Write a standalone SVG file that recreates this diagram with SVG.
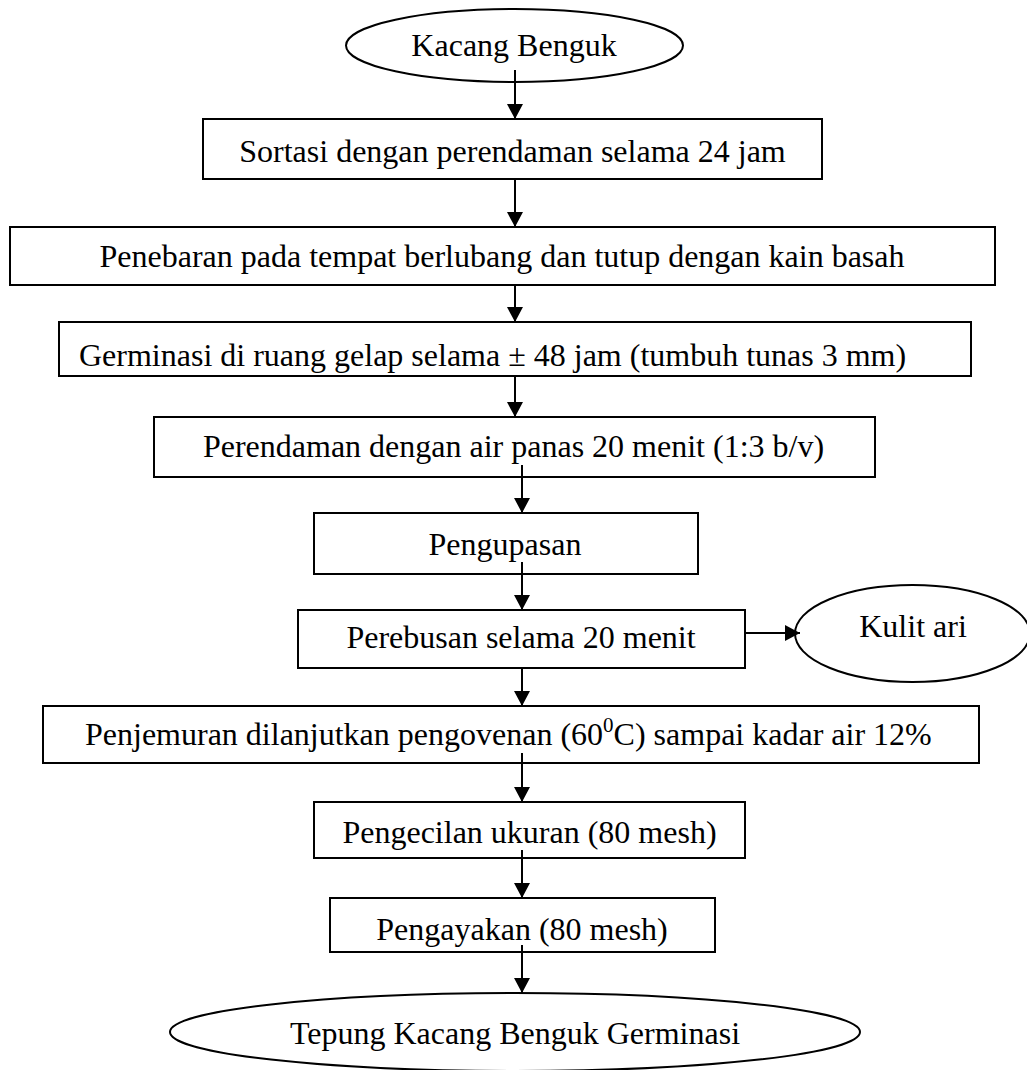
<svg xmlns="http://www.w3.org/2000/svg" width="1027" height="1070" viewBox="0 0 1027 1070">
<style>
.box{fill:#fff;stroke:#000;stroke-width:2}
.oval{fill:#fff;stroke:#000;stroke-width:2}
.t{font-family:"Liberation Serif","Times New Roman",serif;font-size:32px;fill:#000}
.m{text-anchor:middle}
.c{fill:none;stroke:#000;stroke-width:2}
</style>
<defs>
<marker id="ah" viewBox="0 0 15 16" markerWidth="15" markerHeight="16" refX="15" refY="8" orient="auto" markerUnits="userSpaceOnUse">
<path d="M0,0 L15,8 L0,16 z" fill="#000"/>
</marker>
<clipPath id="clip3"><rect x="59" y="322" width="912" height="53"/></clipPath>
</defs>
<g id="n0"><ellipse class="oval" cx="514.5" cy="45.5" rx="168.5" ry="36.5"/><text class="t m" x="514" y="56">Kacang Benguk</text></g>
<g id="n1"><rect class="box" x="203" y="119" width="619" height="60"/><text class="t m" x="512.5" y="162">Sortasi dengan perendaman selama 24 jam</text></g>
<g id="n2"><rect class="box" x="10" y="227" width="985" height="58"/><text class="t m" x="502" y="267">Penebaran pada tempat berlubang dan tutup dengan kain basah</text></g>
<g id="n3"><rect class="box" x="59" y="322" width="912" height="54"/><text class="t" x="79" y="366" clip-path="url(#clip3)">Germinasi di ruang gelap selama ± 48 jam (tumbuh tunas 3 mm)</text></g>
<g id="n4"><rect class="box" x="154" y="417" width="721" height="60"/><text class="t m" x="513.5" y="457">Perendaman dengan air panas 20 menit (1:3 b/v)</text></g>
<g id="n5"><rect class="box" x="314" y="513" width="384" height="61"/><text class="t m" x="505" y="555">Pengupasan</text></g>
<g id="n6"><rect class="box" x="298" y="610" width="447" height="58"/><text class="t m" x="521" y="648">Perebusan selama 20 menit</text></g>
<g id="n7"><ellipse class="oval" cx="912.5" cy="633.5" rx="117.5" ry="48.5"/><text class="t m" x="913" y="637">Kulit ari</text></g>
<g id="n8"><rect class="box" x="43" y="706" width="936" height="57"/><text class="t" x="85" y="745">Penjemuran dilanjutkan pengovenan (60<tspan dy="-13" font-size="21">0</tspan><tspan dy="13">C) sampai kadar air 12%</tspan></text></g>
<g id="n9"><rect class="box" x="314" y="802" width="431" height="56"/><text class="t m" x="529.5" y="843">Pengecilan ukuran (80 mesh)</text></g>
<g id="n10"><rect class="box" x="330" y="898" width="385" height="54"/><text class="t m" x="522" y="940">Pengayakan (80 mesh)</text></g>
<g id="n11"><ellipse class="oval" cx="515" cy="1032" rx="345" ry="39"/><text class="t m" x="515" y="1044">Tepung Kacang Benguk Germinasi</text></g>
<g id="connectors">
<line class="c" x1="515" y1="70" x2="515" y2="119" marker-end="url(#ah)"/>
<line class="c" x1="515" y1="179" x2="515" y2="227" marker-end="url(#ah)"/>
<line class="c" x1="515" y1="285" x2="515" y2="322" marker-end="url(#ah)"/>
<line class="c" x1="515" y1="376" x2="515" y2="417" marker-end="url(#ah)"/>
<line class="c" x1="522" y1="465" x2="522" y2="513" marker-end="url(#ah)"/>
<line class="c" x1="522" y1="562" x2="522" y2="610" marker-end="url(#ah)"/>
<line class="c" x1="745" y1="633" x2="800" y2="633" stroke-width="2.5" marker-end="url(#ah)"/>
<line class="c" x1="522" y1="668" x2="522" y2="706" marker-end="url(#ah)"/>
<line class="c" x1="522" y1="753" x2="522" y2="802" marker-end="url(#ah)"/>
<line class="c" x1="522" y1="850" x2="522" y2="898" marker-end="url(#ah)"/>
<line class="c" x1="522" y1="945" x2="522" y2="993" marker-end="url(#ah)"/>
</g>
</svg>
